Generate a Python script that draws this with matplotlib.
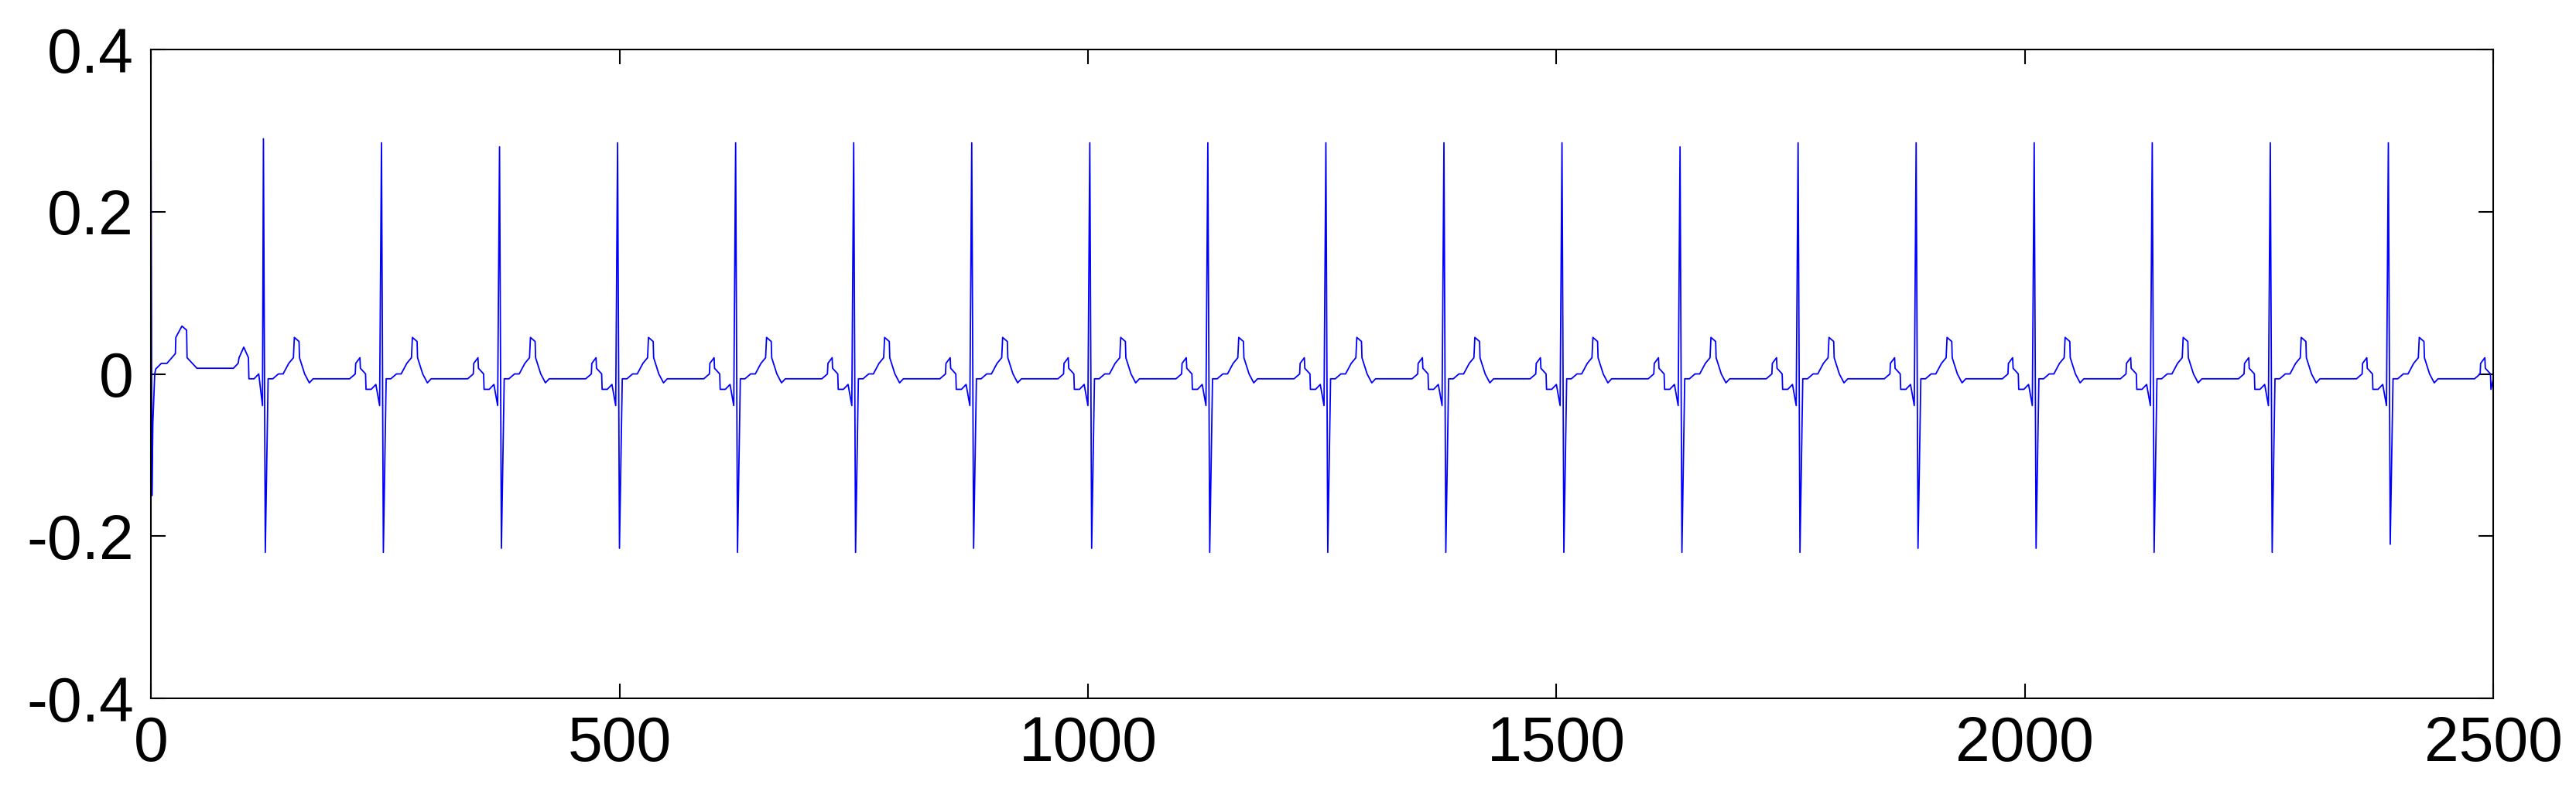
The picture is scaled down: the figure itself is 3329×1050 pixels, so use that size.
import numpy as np
import matplotlib
matplotlib.use("Agg")
import matplotlib.pyplot as plt

# R-peak sample positions
r_peaks = [120, 246, 372, 498, 624, 750, 876, 1002, 1128, 1254, 1380, 1506,
           1632, 1758, 1884, 2010, 2136, 2262, 2388]
r_vals = [0.29, 0.285, 0.28, 0.285, 0.285, 0.285, 0.285, 0.285, 0.285, 0.285,
          0.285, 0.285, 0.28, 0.285, 0.285, 0.285, 0.285, 0.285, 0.285]
s_vals = [-0.22, -0.22, -0.215, -0.215, -0.22, -0.22, -0.215, -0.215, -0.22, -0.22,
          -0.22, -0.22, -0.22, -0.22, -0.215, -0.215, -0.22, -0.22, -0.21]

# start segment (sample, value) before first R
start_x = [0, 1, 2, 4, 5, 11, 17, 26, 26.5, 33, 38, 38.5, 49, 88, 93, 94, 99, 104, 104.5, 110, 115, 119]
start_y = [0.29, -0.15, -0.06, 0.0, 0.006, 0.013, 0.013, 0.025, 0.045, 0.059, 0.054, 0.02, 0.007,
           0.007, 0.013, 0.02, 0.033, 0.02, -0.006, -0.006, 0.0, -0.039]

# beat template after R (offset from R, value); R and S inserted from arrays
tmpl_off = [5, 10, 16, 21, 27, 32, 33, 38, 38.5, 44, 49, 53, 92, 98, 98.5, 103, 103.5, 109, 109.5, 115, 120, 124]
tmpl_val = [-0.006, -0.006, 0.0, 0.0, 0.013, 0.02, 0.045, 0.04, 0.02, 0.0, -0.011, -0.006,
            -0.006, 0.0, 0.013, 0.02, 0.007, 0.0, -0.019, -0.019, -0.013, -0.039]

xs = list(start_x)
ys = list(start_y)
for i, r in enumerate(r_peaks):
    xs += [r, r + 2]
    ys += [r_vals[i], s_vals[i]]
    for o, v in zip(tmpl_off, tmpl_val):
        if r + o <= 2500:
            xs.append(r + o)
            ys.append(v)
xs.append(2500)
ys.append(-0.006)

fig = plt.figure(figsize=(33.3, 10.5), dpi=100)
ax = fig.add_axes([0.0586, 0.14, 0.909, 0.799])
ax.plot(xs, ys, color=(0, 0, 1), lw=1.3)
ax.set_xlim(0, 2500)
ax.set_ylim(-0.4, 0.4)
ax.set_xticks([0, 500, 1000, 1500, 2000, 2500])
ax.set_yticks([-0.4, -0.2, 0, 0.2, 0.4])
ax.set_yticklabels(["-0.4", "-0.2", "0", "0.2", "0.4"])
ax.tick_params(direction="in", length=14, width=1.5, top=True, right=True,
               labelsize=58, pad=16)
for lab in ax.get_xticklabels() + ax.get_yticklabels():
    lab.set_family(["Liberation Sans", "DejaVu Sans"])
for s in ax.spines.values():
    s.set_linewidth(1.5)
fig.savefig("out.png", dpi=100)
